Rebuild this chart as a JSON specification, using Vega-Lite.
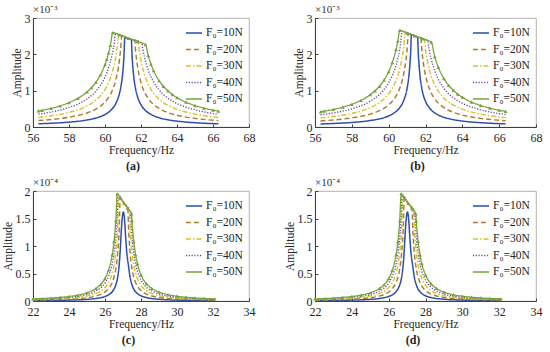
{
"$schema":"https://vega.github.io/schema/vega-lite/v6.json",
"background":"white",
"padding":{"left":1,"top":3,"right":4,"bottom":2},
"datasets":{
"pa":[
{"f":56.3,"a":0.088,"s":10},{"f":57,"a":0.103,"s":10},{"f":58,"a":0.134,"s":10},{"f":59,"a":0.193,"s":10},{"f":59.5,"a":0.247,"s":10},{"f":60,"a":0.344,"s":10},{"f":60.2,"a":0.407,"s":10},{"f":60.4,"a":0.5,"s":10},{"f":60.6,"a":0.647,"s":10},{"f":60.8,"a":0.917,"s":10},{"f":60.9,"a":1.158,"s":10},{"f":61,"a":1.571,"s":10},{"f":61.05,"a":1.913,"s":10},{"f":61.1,"a":2.46,"s":10},{"f":61.28,"a":2.44,"s":10},{"f":61.462,"a":2.41,"s":10},{"f":61.5,"a":2.0,"s":10},{"f":61.6,"a":1.375,"s":10},{"f":61.7,"a":1.048,"s":10},{"f":61.8,"a":0.846,"s":10},{"f":62,"a":0.611,"s":10},{"f":62.2,"a":0.478,"s":10},{"f":62.4,"a":0.393,"s":10},{"f":62.7,"a":0.31,"s":10},{"f":63,"a":0.256,"s":10},{"f":63.5,"a":0.198,"s":10},{"f":64,"a":0.162,"s":10},{"f":65,"a":0.118,"s":10},{"f":66.3,"a":0.088,"s":10},
{"f":56.3,"a":0.177,"s":20},{"f":57,"a":0.206,"s":20},{"f":58,"a":0.268,"s":20},{"f":59,"a":0.386,"s":20},{"f":59.5,"a":0.494,"s":20},{"f":60,"a":0.688,"s":20},{"f":60.2,"a":0.815,"s":20},{"f":60.4,"a":1.0,"s":20},{"f":60.6,"a":1.294,"s":20},{"f":60.8,"a":1.833,"s":20},{"f":60.87,"a":2.146,"s":20},{"f":60.93,"a":2.51,"s":20},{"f":61.3,"a":2.44,"s":20},{"f":61.65,"a":2.38,"s":20},{"f":61.7,"a":2.095,"s":20},{"f":61.8,"a":1.692,"s":20},{"f":62,"a":1.222,"s":20},{"f":62.2,"a":0.957,"s":20},{"f":62.4,"a":0.786,"s":20},{"f":62.7,"a":0.62,"s":20},{"f":63,"a":0.512,"s":20},{"f":63.5,"a":0.396,"s":20},{"f":64,"a":0.324,"s":20},{"f":65,"a":0.237,"s":20},{"f":66.3,"a":0.175,"s":20},
{"f":56.3,"a":0.265,"s":30},{"f":57,"a":0.308,"s":30},{"f":58,"a":0.402,"s":30},{"f":59,"a":0.579,"s":30},{"f":59.5,"a":0.742,"s":30},{"f":60,"a":1.031,"s":30},{"f":60.2,"a":1.222,"s":30},{"f":60.4,"a":1.5,"s":30},{"f":60.6,"a":1.941,"s":30},{"f":60.7,"a":2.276,"s":30},{"f":60.76,"a":2.54,"s":30},{"f":61.3,"a":2.44,"s":30},{"f":61.84,"a":2.35,"s":30},{"f":61.9,"a":2.129,"s":30},{"f":62,"a":1.833,"s":30},{"f":62.2,"a":1.435,"s":30},{"f":62.4,"a":1.179,"s":30},{"f":62.7,"a":0.93,"s":30},{"f":63,"a":0.767,"s":30},{"f":63.5,"a":0.595,"s":30},{"f":64,"a":0.485,"s":30},{"f":65,"a":0.355,"s":30},{"f":66.3,"a":0.263,"s":30},
{"f":56.3,"a":0.353,"s":40},{"f":57,"a":0.411,"s":40},{"f":58,"a":0.537,"s":40},{"f":59,"a":0.772,"s":40},{"f":59.5,"a":0.989,"s":40},{"f":60,"a":1.375,"s":40},{"f":60.2,"a":1.63,"s":40},{"f":60.4,"a":2.0,"s":40},{"f":60.5,"a":2.256,"s":40},{"f":60.59,"a":2.57,"s":40},{"f":61.3,"a":2.44,"s":40},{"f":62.04,"a":2.31,"s":40},{"f":62.1,"a":2.146,"s":40},{"f":62.2,"a":1.913,"s":40},{"f":62.4,"a":1.571,"s":40},{"f":62.7,"a":1.239,"s":40},{"f":63,"a":1.023,"s":40},{"f":63.5,"a":0.793,"s":40},{"f":64,"a":0.647,"s":40},{"f":65,"a":0.473,"s":40},{"f":66.3,"a":0.351,"s":40},
{"f":56.3,"a":0.442,"s":50},{"f":56.5,"a":0.46,"s":50},{"f":57,"a":0.514,"s":50},{"f":57.5,"a":0.582,"s":50},{"f":58,"a":0.671,"s":50},{"f":58.5,"a":0.791,"s":50},{"f":59,"a":0.965,"s":50},{"f":59.25,"a":1.084,"s":50},{"f":59.5,"a":1.236,"s":50},{"f":59.75,"a":1.438,"s":50},{"f":60,"a":1.719,"s":50},{"f":60.1,"a":1.864,"s":50},{"f":60.2,"a":2.037,"s":50},{"f":60.3,"a":2.245,"s":50},{"f":60.43,"a":2.6,"s":50},{"f":60.8,"a":2.533,"s":50},{"f":61.3,"a":2.44,"s":50},{"f":61.8,"a":2.351,"s":50},{"f":62.25,"a":2.27,"s":50},{"f":62.4,"a":1.964,"s":50},{"f":62.55,"a":1.732,"s":50},{"f":62.7,"a":1.549,"s":50},{"f":63,"a":1.279,"s":50},{"f":63.25,"a":1.117,"s":50},{"f":63.5,"a":0.991,"s":50},{"f":63.75,"a":0.891,"s":50},{"f":64,"a":0.809,"s":50},{"f":64.5,"a":0.683,"s":50},{"f":65,"a":0.591,"s":50},{"f":65.5,"a":0.521,"s":50},{"f":66,"a":0.466,"s":50},{"f":66.3,"a":0.438,"s":50}
],
"pb":[
{"f":56.3,"a":0.084,"s":10},{"f":57,"a":0.097,"s":10},{"f":58,"a":0.125,"s":10},{"f":59,"a":0.178,"s":10},{"f":59.5,"a":0.224,"s":10},{"f":60,"a":0.304,"s":10},{"f":60.2,"a":0.355,"s":10},{"f":60.4,"a":0.426,"s":10},{"f":60.6,"a":0.533,"s":10},{"f":60.8,"a":0.71,"s":10},{"f":61,"a":1.065,"s":10},{"f":61.1,"a":1.42,"s":10},{"f":61.2,"a":2.13,"s":10},{"f":61.233,"a":2.54,"s":10},{"f":61.4,"a":2.508,"s":10},{"f":61.572,"a":2.476,"s":10},{"f":61.6,"a":2.13,"s":10},{"f":61.7,"a":1.42,"s":10},{"f":61.8,"a":1.065,"s":10},{"f":62,"a":0.71,"s":10},{"f":62.2,"a":0.533,"s":10},{"f":62.4,"a":0.426,"s":10},{"f":62.7,"a":0.328,"s":10},{"f":63,"a":0.266,"s":10},{"f":63.5,"a":0.203,"s":10},{"f":64,"a":0.164,"s":10},{"f":65,"a":0.118,"s":10},{"f":66.35,"a":0.086,"s":10},
{"f":56.3,"a":0.167,"s":20},{"f":57,"a":0.194,"s":20},{"f":58,"a":0.251,"s":20},{"f":59,"a":0.355,"s":20},{"f":59.5,"a":0.448,"s":20},{"f":60,"a":0.609,"s":20},{"f":60.2,"a":0.71,"s":20},{"f":60.4,"a":0.852,"s":20},{"f":60.6,"a":1.065,"s":20},{"f":60.8,"a":1.42,"s":20},{"f":61,"a":2.13,"s":20},{"f":61.07,"a":2.575,"s":20},{"f":61.4,"a":2.508,"s":20},{"f":61.75,"a":2.44,"s":20},{"f":61.8,"a":2.13,"s":20},{"f":61.9,"a":1.704,"s":20},{"f":62.1,"a":1.217,"s":20},{"f":62.3,"a":0.947,"s":20},{"f":62.5,"a":0.775,"s":20},{"f":62.7,"a":0.655,"s":20},{"f":63,"a":0.533,"s":20},{"f":63.5,"a":0.406,"s":20},{"f":64,"a":0.328,"s":20},{"f":65,"a":0.237,"s":20},{"f":66.35,"a":0.172,"s":20},
{"f":56.3,"a":0.251,"s":30},{"f":57,"a":0.29,"s":30},{"f":58,"a":0.376,"s":30},{"f":59,"a":0.533,"s":30},{"f":59.5,"a":0.673,"s":30},{"f":60,"a":0.913,"s":30},{"f":60.2,"a":1.065,"s":30},{"f":60.4,"a":1.278,"s":30},{"f":60.6,"a":1.598,"s":30},{"f":60.8,"a":2.13,"s":30},{"f":60.91,"a":2.6,"s":30},{"f":61.4,"a":2.508,"s":30},{"f":61.93,"a":2.41,"s":30},{"f":62,"a":2.13,"s":30},{"f":62.1,"a":1.826,"s":30},{"f":62.3,"a":1.42,"s":30},{"f":62.5,"a":1.162,"s":30},{"f":62.7,"a":0.983,"s":30},{"f":63,"a":0.799,"s":30},{"f":63.5,"a":0.609,"s":30},{"f":64,"a":0.492,"s":30},{"f":65,"a":0.355,"s":30},{"f":66.35,"a":0.258,"s":30},
{"f":56.3,"a":0.334,"s":40},{"f":57,"a":0.387,"s":40},{"f":58,"a":0.501,"s":40},{"f":59,"a":0.71,"s":40},{"f":59.5,"a":0.897,"s":40},{"f":60,"a":1.217,"s":40},{"f":60.2,"a":1.42,"s":40},{"f":60.4,"a":1.704,"s":40},{"f":60.5,"a":1.893,"s":40},{"f":60.6,"a":2.13,"s":40},{"f":60.75,"a":2.63,"s":40},{"f":61.4,"a":2.508,"s":40},{"f":62.12,"a":2.37,"s":40},{"f":62.2,"a":2.13,"s":40},{"f":62.3,"a":1.893,"s":40},{"f":62.5,"a":1.549,"s":40},{"f":62.7,"a":1.311,"s":40},{"f":63,"a":1.065,"s":40},{"f":63.5,"a":0.811,"s":40},{"f":64,"a":0.655,"s":40},{"f":65,"a":0.473,"s":40},{"f":66.35,"a":0.344,"s":40},
{"f":56.3,"a":0.418,"s":50},{"f":56.5,"a":0.435,"s":50},{"f":57,"a":0.484,"s":50},{"f":57.5,"a":0.546,"s":50},{"f":58,"a":0.626,"s":50},{"f":58.5,"a":0.734,"s":50},{"f":59,"a":0.888,"s":50},{"f":59.25,"a":0.991,"s":50},{"f":59.5,"a":1.121,"s":50},{"f":59.75,"a":1.291,"s":50},{"f":60,"a":1.521,"s":50},{"f":60.2,"a":1.775,"s":50},{"f":60.4,"a":2.13,"s":50},{"f":60.5,"a":2.367,"s":50},{"f":60.6,"a":2.66,"s":50},{"f":61,"a":2.584,"s":50},{"f":61.4,"a":2.508,"s":50},{"f":61.85,"a":2.423,"s":50},{"f":62.31,"a":2.335,"s":50},{"f":62.5,"a":1.936,"s":50},{"f":62.7,"a":1.638,"s":50},{"f":63,"a":1.331,"s":50},{"f":63.25,"a":1.151,"s":50},{"f":63.5,"a":1.014,"s":50},{"f":63.75,"a":0.906,"s":50},{"f":64,"a":0.819,"s":50},{"f":64.5,"a":0.687,"s":50},{"f":65,"a":0.592,"s":50},{"f":65.5,"a":0.52,"s":50},{"f":66,"a":0.463,"s":50},{"f":66.35,"a":0.43,"s":50}
],
"pc":[
{"f":22,"a":0.008,"s":10},{"f":23,"a":0.011,"s":10},{"f":24,"a":0.017,"s":10},{"f":25,"a":0.03,"s":10},{"f":25.5,"a":0.046,"s":10},{"f":26,"a":0.082,"s":10},{"f":26.2,"a":0.112,"s":10},{"f":26.4,"a":0.168,"s":10},{"f":26.5,"a":0.216,"s":10},{"f":26.6,"a":0.292,"s":10},{"f":26.7,"a":0.425,"s":10},{"f":26.8,"a":0.704,"s":10},{"f":26.85,"a":0.95,"s":10},{"f":26.9,"a":1.25,"s":10},{"f":26.95,"a":1.48,"s":10},{"f":27.02,"a":1.62,"s":10},{"f":27.1,"a":1.42,"s":10},{"f":27.15,"a":1.15,"s":10},{"f":27.2,"a":0.92,"s":10},{"f":27.3,"a":0.65,"s":10},{"f":27.4,"a":0.425,"s":10},{"f":27.5,"a":0.292,"s":10},{"f":27.6,"a":0.216,"s":10},{"f":27.8,"a":0.136,"s":10},{"f":28,"a":0.095,"s":10},{"f":28.3,"a":0.063,"s":10},{"f":29,"a":0.032,"s":10},{"f":30,"a":0.017,"s":10},{"f":31,"a":0.011,"s":10},{"f":32.1,"a":0.008,"s":10},
{"f":22,"a":0.016,"s":20},{"f":23,"a":0.022,"s":20},{"f":24,"a":0.033,"s":20},{"f":25,"a":0.06,"s":20},{"f":25.5,"a":0.091,"s":20},{"f":26,"a":0.164,"s":20},{"f":26.2,"a":0.225,"s":20},{"f":26.4,"a":0.336,"s":20},{"f":26.5,"a":0.432,"s":20},{"f":26.6,"a":0.583,"s":20},{"f":26.7,"a":0.85,"s":20},{"f":26.8,"a":1.408,"s":20},{"f":26.84,"a":1.876,"s":20},{"f":27.05,"a":1.78,"s":20},{"f":27.27,"a":1.69,"s":20},{"f":27.3,"a":1.408,"s":20},{"f":27.4,"a":0.85,"s":20},{"f":27.5,"a":0.583,"s":20},{"f":27.6,"a":0.432,"s":20},{"f":27.7,"a":0.336,"s":20},{"f":27.8,"a":0.271,"s":20},{"f":28,"a":0.19,"s":20},{"f":28.3,"a":0.126,"s":20},{"f":28.6,"a":0.091,"s":20},{"f":29,"a":0.065,"s":20},{"f":29.5,"a":0.046,"s":20},{"f":30,"a":0.035,"s":20},{"f":31,"a":0.022,"s":20},{"f":32.1,"a":0.016,"s":20},
{"f":22,"a":0.023,"s":30},{"f":23,"a":0.032,"s":30},{"f":24,"a":0.05,"s":30},{"f":25,"a":0.09,"s":30},{"f":25.5,"a":0.137,"s":30},{"f":26,"a":0.245,"s":30},{"f":26.2,"a":0.337,"s":30},{"f":26.4,"a":0.504,"s":30},{"f":26.5,"a":0.647,"s":30},{"f":26.6,"a":0.875,"s":30},{"f":26.7,"a":1.275,"s":30},{"f":26.78,"a":1.904,"s":30},{"f":27.05,"a":1.78,"s":30},{"f":27.35,"a":1.64,"s":30},{"f":27.4,"a":1.275,"s":30},{"f":27.5,"a":0.875,"s":30},{"f":27.6,"a":0.647,"s":30},{"f":27.7,"a":0.504,"s":30},{"f":27.8,"a":0.407,"s":30},{"f":28,"a":0.285,"s":30},{"f":28.3,"a":0.189,"s":30},{"f":28.6,"a":0.137,"s":30},{"f":29,"a":0.097,"s":30},{"f":29.5,"a":0.069,"s":30},{"f":30,"a":0.052,"s":30},{"f":31,"a":0.034,"s":30},{"f":32.1,"a":0.023,"s":30},
{"f":22,"a":0.031,"s":40},{"f":23,"a":0.043,"s":40},{"f":24,"a":0.066,"s":40},{"f":25,"a":0.12,"s":40},{"f":25.5,"a":0.182,"s":40},{"f":26,"a":0.327,"s":40},{"f":26.2,"a":0.449,"s":40},{"f":26.4,"a":0.672,"s":40},{"f":26.5,"a":0.863,"s":40},{"f":26.6,"a":1.166,"s":40},{"f":26.7,"a":1.7,"s":40},{"f":26.728,"a":1.93,"s":40},{"f":27.05,"a":1.78,"s":40},{"f":27.41,"a":1.61,"s":40},{"f":27.5,"a":1.166,"s":40},{"f":27.6,"a":0.863,"s":40},{"f":27.7,"a":0.672,"s":40},{"f":27.8,"a":0.542,"s":40},{"f":28,"a":0.38,"s":40},{"f":28.3,"a":0.252,"s":40},{"f":28.6,"a":0.182,"s":40},{"f":29,"a":0.129,"s":40},{"f":29.5,"a":0.092,"s":40},{"f":30,"a":0.069,"s":40},{"f":31,"a":0.045,"s":40},{"f":32.1,"a":0.031,"s":40},
{"f":22,"a":0.039,"s":50},{"f":22.5,"a":0.045,"s":50},{"f":23,"a":0.054,"s":50},{"f":23.5,"a":0.066,"s":50},{"f":24,"a":0.083,"s":50},{"f":24.5,"a":0.108,"s":50},{"f":25,"a":0.15,"s":50},{"f":25.5,"a":0.228,"s":50},{"f":25.75,"a":0.297,"s":50},{"f":26,"a":0.409,"s":50},{"f":26.2,"a":0.561,"s":50},{"f":26.4,"a":0.84,"s":50},{"f":26.5,"a":1.079,"s":50},{"f":26.6,"a":1.458,"s":50},{"f":26.68,"a":1.95,"s":50},{"f":26.85,"a":1.872,"s":50},{"f":27.05,"a":1.78,"s":50},{"f":27.25,"a":1.688,"s":50},{"f":27.475,"a":1.585,"s":50},{"f":27.5,"a":1.458,"s":50},{"f":27.6,"a":1.079,"s":50},{"f":27.7,"a":0.84,"s":50},{"f":27.8,"a":0.678,"s":50},{"f":28,"a":0.475,"s":50},{"f":28.3,"a":0.315,"s":50},{"f":28.6,"a":0.228,"s":50},{"f":29,"a":0.162,"s":50},{"f":29.5,"a":0.115,"s":50},{"f":30,"a":0.087,"s":50},{"f":30.5,"a":0.069,"s":50},{"f":31,"a":0.056,"s":50},{"f":31.5,"a":0.047,"s":50},{"f":32.1,"a":0.039,"s":50}
]
},
"columns":2,
"spacing":{"row":4,"column":27},
"concat":[
{"width":216,"height":109,"data":{"name":"pa"},
 "title":{"text":"(a)","orient":"bottom","frame":"bounds","anchor":"middle"},
 "layer":[
  {"mark":{"type":"line","interpolate":"monotone"},
   "encoding":{"x":{"field":"f","type":"quantitative","scale":{"domain":[56,68]},"axis":{"values":[56,58,60,62,64,66,68],"tickCount":20,"format":"d"},"title":"Frequency/Hz"},
    "y":{"field":"a","type":"quantitative","scale":{"domain":[0,3]},"axis":{"values":[0,1,2,3],"tickCount":20,"format":"d"},"title":"Amplitude"},
    "color":{"field":"s","type":"nominal","scale":{"domain":[10,20,30,40,50],"range":["#2b4fae","#b07a2c","#d8c224","#6b44a6","#74a53a"]},"legend":{"labelExpr":"'F₀=' + datum.label + 'N'"}},
    "strokeDash":{"field":"s","type":"nominal","scale":{"domain":[10,20,30,40,50],"range":[[1,0],[5,3],[5,2,1.5,2],[1.2,1.6],[1,0]]},"legend":{"labelExpr":"'F₀=' + datum.label + 'N'"}},
    "strokeWidth":{"field":"s","type":"ordinal","scale":{"domain":[10,20,30,40,50],"range":[1.5,1.3,1.3,1.3,2.3]},"legend":null}}},
  {"transform":[{"filter":"datum.s == 50"}],"mark":{"type":"point","shape":"triangle-up","filled":true,"size":14,"color":"#74a53a","opacity":1},
   "encoding":{"x":{"field":"f","type":"quantitative"},"y":{"field":"a","type":"quantitative"}}},
  {"data":{"values":[{"t":"×10⁻³"}]},"mark":{"type":"text","align":"left","baseline":"bottom","dy":-3,"fontSize":11,"font":"Liberation Serif","color":"#333"},
   "encoding":{"x":{"datum":56},"y":{"datum":3},"text":{"field":"t"}}}
 ]},
{"width":221,"height":109,"data":{"name":"pb"},
 "title":{"text":"(b)","orient":"bottom","frame":"bounds","anchor":"middle"},
 "layer":[
  {"mark":{"type":"line","interpolate":"monotone"},
   "encoding":{"x":{"field":"f","type":"quantitative","scale":{"domain":[56,68]},"axis":{"values":[56,58,60,62,64,66,68],"tickCount":20,"format":"d"},"title":"Frequency/Hz"},
    "y":{"field":"a","type":"quantitative","scale":{"domain":[0,3]},"axis":{"values":[0,1,2,3],"tickCount":20,"format":"d"},"title":"Amplitude"},
    "color":{"field":"s","type":"nominal","scale":{"domain":[10,20,30,40,50],"range":["#2b4fae","#b07a2c","#d8c224","#6b44a6","#74a53a"]},"legend":{"labelExpr":"'F₀=' + datum.label + 'N'"}},
    "strokeDash":{"field":"s","type":"nominal","scale":{"domain":[10,20,30,40,50],"range":[[1,0],[5,3],[5,2,1.5,2],[1.2,1.6],[1,0]]},"legend":{"labelExpr":"'F₀=' + datum.label + 'N'"}},
    "strokeWidth":{"field":"s","type":"ordinal","scale":{"domain":[10,20,30,40,50],"range":[1.5,1.3,1.3,1.3,2.3]},"legend":null}}},
  {"transform":[{"filter":"datum.s == 50"}],"mark":{"type":"point","shape":"triangle-up","filled":true,"size":14,"color":"#74a53a","opacity":1},
   "encoding":{"x":{"field":"f","type":"quantitative"},"y":{"field":"a","type":"quantitative"}}},
  {"data":{"values":[{"t":"×10⁻³"}]},"mark":{"type":"text","align":"left","baseline":"bottom","dy":-3,"fontSize":11,"font":"Liberation Serif","color":"#333"},
   "encoding":{"x":{"datum":56},"y":{"datum":3},"text":{"field":"t"}}}
 ]},
{"width":216,"height":110,"data":{"name":"pc"},
 "title":{"text":"(c)","orient":"bottom","frame":"bounds","anchor":"middle"},
 "layer":[
  {"mark":{"type":"line","interpolate":"monotone"},
   "encoding":{"x":{"field":"f","type":"quantitative","scale":{"domain":[22,34]},"axis":{"values":[22,24,26,28,30,32,34],"tickCount":20,"format":"d"},"title":"Frequency/Hz"},
    "y":{"field":"a","type":"quantitative","scale":{"domain":[0,2]},"axis":{"values":[0,0.5,1,1.5,2],"tickCount":20,"format":"~g"},"title":"Amplitude"},
    "color":{"field":"s","type":"nominal","scale":{"domain":[10,20,30,40,50],"range":["#2b4fae","#b07a2c","#d8c224","#6b44a6","#74a53a"]},"legend":{"labelExpr":"'F₀=' + datum.label + 'N'"}},
    "strokeDash":{"field":"s","type":"nominal","scale":{"domain":[10,20,30,40,50],"range":[[1,0],[5,3],[5,2,1.5,2],[1.2,1.6],[1,0]]},"legend":{"labelExpr":"'F₀=' + datum.label + 'N'"}},
    "strokeWidth":{"field":"s","type":"ordinal","scale":{"domain":[10,20,30,40,50],"range":[1.5,1.3,1.3,1.3,2.3]},"legend":null}}},
  {"transform":[{"filter":"datum.s == 50"}],"mark":{"type":"point","shape":"triangle-up","filled":true,"size":14,"color":"#74a53a","opacity":1},
   "encoding":{"x":{"field":"f","type":"quantitative"},"y":{"field":"a","type":"quantitative"}}},
  {"data":{"values":[{"t":"×10⁻⁴"}]},"mark":{"type":"text","align":"left","baseline":"bottom","dy":-3,"fontSize":11,"font":"Liberation Serif","color":"#333"},
   "encoding":{"x":{"datum":22},"y":{"datum":2},"text":{"field":"t"}}}
 ]},
{"width":221,"height":110,"data":{"name":"pc"},
 "title":{"text":"(d)","orient":"bottom","frame":"bounds","anchor":"middle"},
 "layer":[
  {"mark":{"type":"line","interpolate":"monotone"},
   "encoding":{"x":{"field":"f","type":"quantitative","scale":{"domain":[22,34]},"axis":{"values":[22,24,26,28,30,32,34],"tickCount":20,"format":"d"},"title":"Frequency/Hz"},
    "y":{"field":"a","type":"quantitative","scale":{"domain":[0,2]},"axis":{"values":[0,0.5,1,1.5,2],"tickCount":20,"format":"~g"},"title":"Amplitude"},
    "color":{"field":"s","type":"nominal","scale":{"domain":[10,20,30,40,50],"range":["#2b4fae","#b07a2c","#d8c224","#6b44a6","#74a53a"]},"legend":{"labelExpr":"'F₀=' + datum.label + 'N'"}},
    "strokeDash":{"field":"s","type":"nominal","scale":{"domain":[10,20,30,40,50],"range":[[1,0],[5,3],[5,2,1.5,2],[1.2,1.6],[1,0]]},"legend":{"labelExpr":"'F₀=' + datum.label + 'N'"}},
    "strokeWidth":{"field":"s","type":"ordinal","scale":{"domain":[10,20,30,40,50],"range":[1.5,1.3,1.3,1.3,2.3]},"legend":null}}},
  {"transform":[{"filter":"datum.s == 50"}],"mark":{"type":"point","shape":"triangle-up","filled":true,"size":14,"color":"#74a53a","opacity":1},
   "encoding":{"x":{"field":"f","type":"quantitative"},"y":{"field":"a","type":"quantitative"}}},
  {"data":{"values":[{"t":"×10⁻⁴"}]},"mark":{"type":"text","align":"left","baseline":"bottom","dy":-3,"fontSize":11,"font":"Liberation Serif","color":"#333"},
   "encoding":{"x":{"datum":22},"y":{"datum":2},"text":{"field":"t"}}}
 ]}
],
"resolve":{"scale":{"color":"independent","strokeDash":"independent","strokeWidth":"independent","x":"independent","y":"independent"},"legend":{"color":"independent","strokeDash":"independent"},"axis":{"x":"independent","y":"independent"}},
"config":{
 "font":"Liberation Serif",
 "view":{"stroke":"#a0a0a0","strokeWidth":0.8},
 "title":{"font":"Liberation Serif","fontSize":12,"fontWeight":"bold","color":"#222","offset":5},
 "axis":{"grid":false,"labelFont":"Liberation Serif","labelFontSize":12,"labelColor":"#262626","titleFont":"Liberation Serif","titleFontSize":11.5,"titleFontWeight":"normal","titleColor":"#262626","domainColor":"#404040","tickColor":"#404040","tickSize":-3,"labelPadding":8,"labelFlush":false,"labelOverlap":false,"labelBound":false},
 "axisX":{"titlePadding":1},
 "axisY":{"titlePadding":2,"labelPadding":6},
 "legend":{"orient":"top-right","offset":6,"title":null,"labelFont":"Liberation Serif","labelFontSize":11.5,"labelColor":"#222","symbolType":"stroke","symbolSize":260,"symbolStrokeWidth":1.6,"rowPadding":1.5,"labelOffset":3,"padding":0}
}
}
